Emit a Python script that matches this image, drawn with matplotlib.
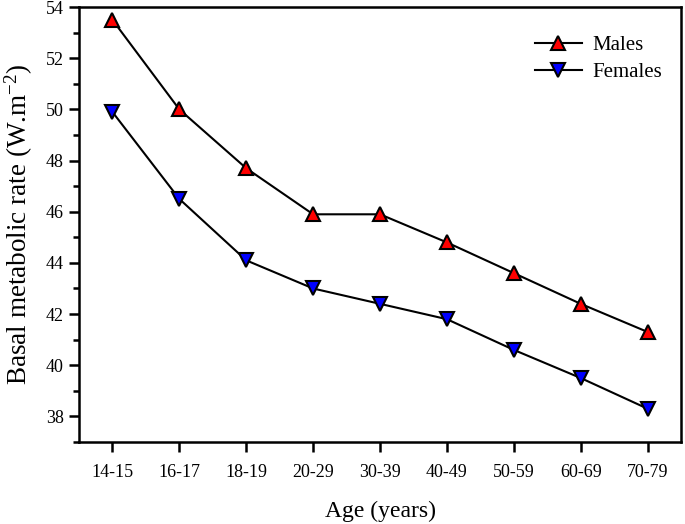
import matplotlib
matplotlib.use('Agg')
import matplotlib.pyplot as plt
from matplotlib.ticker import MultipleLocator

plt.rcParams['font.family'] = ['Liberation Serif', 'DejaVu Serif']
plt.rcParams['mathtext.fontset'] = 'custom'
plt.rcParams['mathtext.rm'] = 'Liberation Serif'
plt.rcParams['mathtext.it'] = 'Liberation Serif:italic'

age_groups = ['14-15', '16-17', '18-19', '20-29', '30-39', '40-49', '50-59', '60-69', '70-79']
males = [53.5, 50.0, 47.7, 45.9, 45.9, 44.8, 43.6, 42.4, 41.3]
females = [49.9, 46.5, 44.1, 43.0, 42.4, 41.8, 40.6, 39.5, 38.3]

fig = plt.figure(figsize=(6.85, 5.24), dpi=100)
ax = fig.add_axes([0.1153, 0.1565, 0.879, 0.83])

x = range(len(age_groups))
ax.plot(x, males, color='black', lw=1.5, marker='^', ms=10.5,
        mfc='red', mec='black', mew=1.5, label='Males')
ax.plot(x, females, color='black', lw=1.5, marker='v', ms=10.5,
        mfc='blue', mec='black', mew=1.5, label='Females')

ax.set_xlim(-0.5, 8.5)
ax.set_ylim(37, 54)
ax.set_xticks(list(x))
ax.set_xticklabels(age_groups)
ax.yaxis.set_major_locator(MultipleLocator(2))
ax.yaxis.set_minor_locator(MultipleLocator(1))
ax.tick_params(which='both', direction='out', width=1.8, labelsize=13,
               top=False, right=False)
ax.tick_params(which='major', length=7)
ax.tick_params(which='minor', length=4.5)
ax.tick_params(axis='x', pad=9)
ax.tick_params(axis='y', pad=4)
for s in ax.spines.values():
    s.set_linewidth(1.8)

ax.set_xlabel('Age (years)', fontsize=17, labelpad=14)
ax.set_ylabel(r'Basal metabolic rate (W.m$^{\mathrm{-2}}$)', fontsize=19.5, labelpad=8)

ax.legend(loc='upper right', bbox_to_anchor=(0.982, 0.953), borderaxespad=0,
          frameon=False, fontsize=15, handlelength=2.25, handletextpad=0.5,
          labelspacing=0.35)

fig.savefig('out.png', dpi=100)
